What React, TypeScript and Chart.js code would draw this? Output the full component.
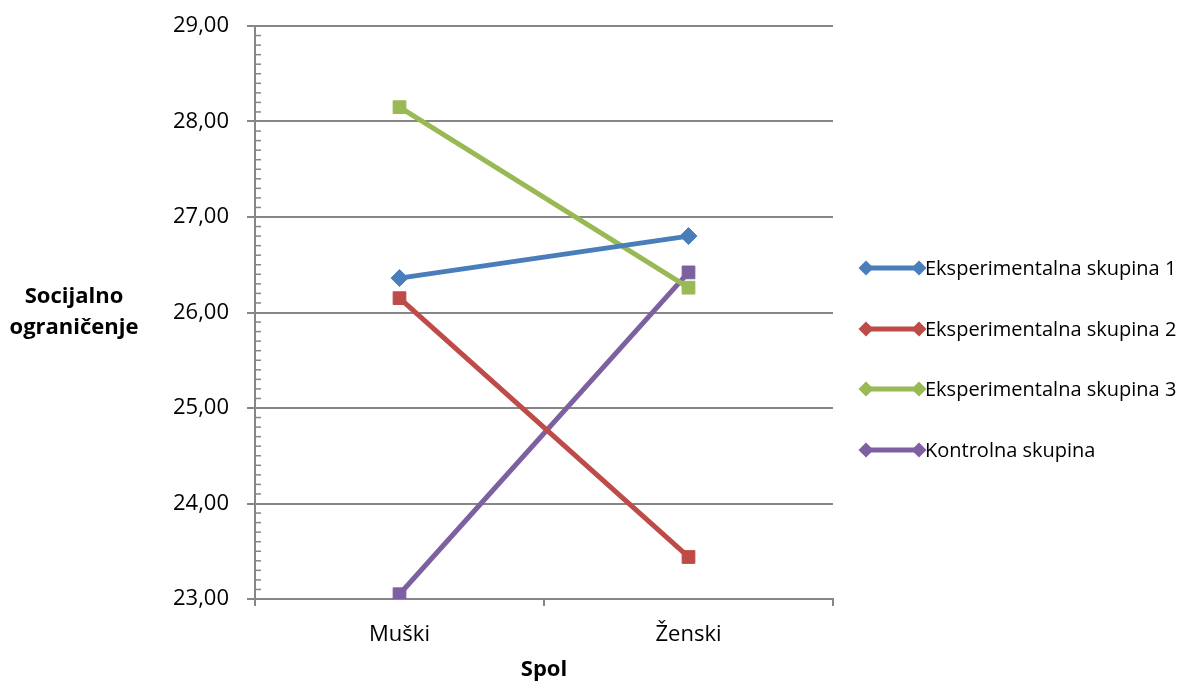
import React, { useEffect, useRef } from "react";
import { Chart, registerables } from "chart.js";

Chart.register(...registerables);

const categories = ["Muški", "Ženski"];
const seriesNames = [
  "Eksperimentalna skupina 1",
  "Eksperimentalna skupina 2",
  "Eksperimentalna skupina 3",
  "Kontrolna skupina",
];
const exp1 = [26.36, 26.8];
const exp2 = [26.15, 23.44];
const exp3 = [28.15, 26.26];
const control = [23.05, 26.42];
const colors = ["#4A7EBB", "#BE4B48", "#98B954", "#7D60A0"];
const pointStyles = ["rectRot", "rect", "rect", "rect"];
const yTitle = ["Socijalno", "ograničenje"];
const xTitle = "Spol";

const FONT = "'Open Sans', 'Noto Sans', sans-serif";

export default function App() {
  const ref = useRef<HTMLCanvasElement | null>(null);

  useEffect(() => {
    if (!ref.current) return;
    const values = [exp1, exp2, exp3, control];

    const extras = {
      id: "extras",
      afterDraw(chart: any) {
        const ctx = chart.ctx;
        const y = chart.scales.y;
        const area = chart.chartArea;
        ctx.save();
        // minor ticks
        ctx.strokeStyle = "#868686";
        ctx.lineWidth = 1.5;
        for (let v = y.min; v < y.max - 1e-9; v += 0.1) {
          const r = Math.round(v * 10) / 10;
          if (Math.abs(r - Math.round(r)) < 1e-6) continue;
          const py = y.getPixelForValue(r);
          ctx.beginPath();
          ctx.moveTo(area.left, py);
          ctx.lineTo(area.left + 6, py);
          ctx.stroke();
        }
        // axis titles
        ctx.fillStyle = "#000";
        ctx.font = `bold 22px ${FONT}`;
        ctx.textAlign = "center";
        ctx.textBaseline = "middle";
        ctx.fillText(yTitle[0], 74, 297);
        ctx.fillText(yTitle[1], 74, 328);
        ctx.fillText(xTitle, (area.left + area.right) / 2, 670);
        // legend
        const rowY = [268, 329, 389, 450];
        ctx.font = `20px ${FONT}`;
        ctx.textAlign = "left";
        seriesNames.forEach((name, i) => {
          const cy = rowY[i];
          ctx.strokeStyle = colors[i];
          ctx.lineWidth = 5;
          ctx.beginPath();
          ctx.moveTo(866, cy);
          ctx.lineTo(919, cy);
          ctx.stroke();
          ctx.fillStyle = colors[i];
          [866, 919].forEach((cx) => {
            ctx.beginPath();
            ctx.moveTo(cx - 7.5, cy);
            ctx.lineTo(cx, cy - 7.5);
            ctx.lineTo(cx + 7.5, cy);
            ctx.lineTo(cx, cy + 7.5);
            ctx.closePath();
            ctx.fill();
          });
          ctx.fillStyle = "#000";
          ctx.fillText(name, 925, cy + 1);
        });
        ctx.restore();
      },
    };

    const chart = new Chart(ref.current, {
      type: "line",
      data: {
        labels: categories,
        datasets: seriesNames.map((name, i) => ({
          label: name,
          data: values[i],
          borderColor: colors[i],
          backgroundColor: colors[i],
          borderWidth: 5,
          pointStyle: pointStyles[i] as any,
          pointRadius: i === 0 ? 8.5 : 9,
          pointBorderWidth: 1,
          pointBackgroundColor: colors[i],
          pointBorderColor: colors[i],
          tension: 0,
          fill: false,
        })),
      },
      options: {
        responsive: false,
        animation: false,
        devicePixelRatio: 1,
        layout: { padding: { top: 26, right: 361, bottom: 0, left: 0 } },
        plugins: {
          legend: { display: false },
          tooltip: { enabled: false },
        },
        scales: {
          x: {
            type: "category",
            offset: true,
            afterFit: (s: any) => {
              s.height = 85;
              s.paddingLeft = 0;
              s.paddingRight = 0;
            },
            grid: {
              offset: true,
              drawOnChartArea: false,
              drawTicks: true,
              tickLength: 7,
              color: "#868686",
              lineWidth: 2,
            },
            border: { display: true, color: "#868686", width: 2 },
            ticks: {
              color: "#000",
              font: { family: FONT, size: 22 },
              padding: 16,
            },
          },
          y: {
            min: 23,
            max: 29,
            afterFit: (s: any) => {
              s.width = 255;
              s.paddingTop = 0;
              s.paddingBottom = 0;
            },
            grid: {
              color: "#868686",
              lineWidth: 2,
              drawTicks: true,
              tickLength: 8,
            },
            border: { display: true, color: "#868686", width: 2 },
            ticks: {
              stepSize: 1,
              color: "#000",
              font: { family: FONT, size: 22 },
              padding: 18,
              callback: (v: any) => Number(v).toFixed(2).replace(".", ","),
            },
          },
        },
      },
      plugins: [extras],
    });
    return () => chart.destroy();
  }, []);

  return (
    <div style={{ position: "fixed", left: 0, top: 0, width: 1194, height: 684, background: "#fff" }}>
      <canvas ref={ref} width={1194} height={684} style={{ width: 1194, height: 684 }} />
    </div>
  );
}
